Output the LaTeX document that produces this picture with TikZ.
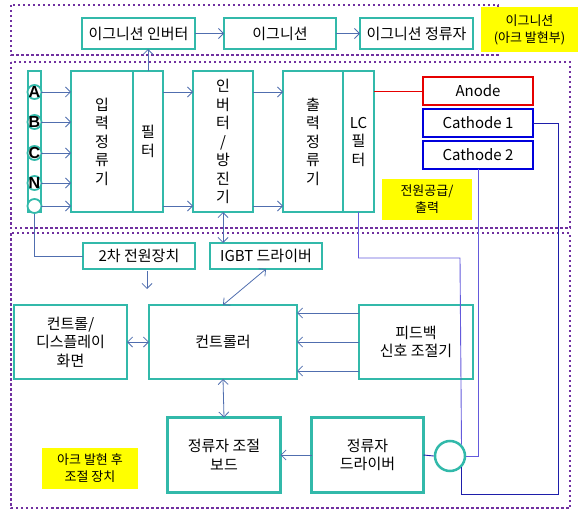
\documentclass[tikz,border=0pt]{standalone}
\usepackage{fontspec}
\setmainfont{Noto Sans CJK KR}
\newfontfamily\pinfont{Liberation Sans}
\usetikzlibrary{shapes, arrows.meta, positioning}
\usepackage{xcolor}
\definecolor{BoxTeal}{RGB}{50,185,170}
\definecolor{FramePurple}{RGB}{112,48,160}
\definecolor{LinkBlue}{RGB}{80,110,175}
\definecolor{WireBlue}{RGB}{100,90,220}
\definecolor{WireNavy}{RGB}{30,30,170}
\definecolor{NoteYellow}{RGB}{255,255,0}
\definecolor{AnodeRed}{RGB}{230,0,0}
\definecolor{CathodeBlue}{RGB}{0,0,220}

\begin{document}
\begin{tikzpicture}[
          x=1pt, y=-1pt,
          block/.style={rectangle, draw=BoxTeal, line width=2.5pt, fill=white, align=center, outer sep=0pt, inner sep=1pt, font=\fontsize{15}{18.5}\selectfont},
          tallblock/.style={block, minimum height=141pt},
          lead/.style={rectangle, line width=2.5pt, fill=white, minimum width=110pt, minimum height=28pt, outer sep=0pt, font=\fontsize{15}{18}\selectfont},
          terminal/.style={circle, draw=BoxTeal, line width=1.8pt, fill=white, minimum size=14pt, inner sep=0pt, label={[font=\pinfont\bfseries\fontsize{16}{16}\selectfont, inner sep=0pt]center:#1}},
          note/.style={rectangle, fill=NoteYellow, align=center, outer sep=0pt, font=\fontsize{13}{17}\selectfont},
          frame/.style={draw=FramePurple, line width=2.5pt, dash pattern=on 2.5pt off 2.5pt},
          arrow/.style={-{Straight Barb[length=5pt, width=10pt]}, line width=0.8pt, LinkBlue},
          dbl/.style={{Straight Barb[length=5pt, width=10pt]}-{Straight Barb[length=5pt, width=10pt]}, line width=0.8pt, LinkBlue},
          link/.style={line width=0.8pt, LinkBlue},
          wire/.style={line width=0.9pt, WireBlue},
          navywire/.style={line width=0.9pt, WireNavy},
          redwire/.style={line width=0.9pt, AnodeRed}
        ]
          \useasboundingbox (0,0) rectangle (582,511);

          \draw [frame] (11,5) rectangle (498,55);
          \draw [frame] (11,62) rectangle (570,228);
          \draw [frame] (11,233) rectangle (570,508);

          \node (ign_note) [note, minimum width=97pt, minimum height=45pt] at (529.5,30) {이그니션\\(아크 발현부)};
          \node (power_note) [note, minimum width=90pt, minimum height=41pt] at (427,199.5) {전원공급/\\출력};
          \node (arc_note) [note, minimum width=96pt, minimum height=41pt] at (90,468.5) {아크 발현 후\\조절 장치};

          \node (ign_inv) [block, minimum width=113pt, minimum height=31pt] at (138.5,33.5) {이그니션 인버터};
          \node (ign) [block, minimum width=112pt, minimum height=31pt, right=29pt of ign_inv] {이그니션};
          \node (ign_rect) [block, minimum width=113pt, minimum height=31pt, right=24pt of ign] {이그니션 정류자};

          \node (term) [block, minimum width=13pt, minimum height=141pt] at (34.5,141.5) {};
          \node (pA) [terminal=A] at (34.5,92) {};
          \node (pB) [terminal=B] at (34.5,122) {};
          \node (pC) [terminal=C] at (34.5,153) {};
          \node (pN) [terminal=N] at (34.5,183) {};
          \node (pE) [terminal={}] at (34.5,206) {};

          \node (in_rect) [tallblock, minimum width=62pt] at (102,141.5) {입\\력\\정\\류\\기};
          \node (filter) [tallblock, minimum width=30pt, anchor=west] at (in_rect.east) {필\\터};
          \node (inverter) [tallblock, minimum width=60pt, right=30pt of filter] {인\\버\\터\\/\\방\\진\\기};
          \node (out_rect) [tallblock, minimum width=60pt, right=30pt of inverter] {출\\력\\정\\류\\기};
          \node (lc) [tallblock, minimum width=31pt, anchor=west] at (out_rect.east) {LC\\필\\터};

          \node (anode) [lead, draw=AnodeRed] at (478,91) {Anode};
          \node (cath1) [lead, draw=CathodeBlue, below=4pt of anode] {Cathode 1};
          \node (cath2) [lead, draw=CathodeBlue, below=4pt of cath1] {Cathode 2};

          \node (sec_pow) [block, minimum width=112pt, minimum height=26pt] at (139,256) {2차 전원장치};
          \node (igbt) [block, minimum width=112pt, minimum height=26pt, right=15pt of sec_pow] {IGBT 드라이버};
          \node (ctrl_disp) [block, minimum width=113pt, minimum height=74pt] at (70.5,342) {컨트롤/\\디스플레이\\화면};
          \node (ctrl) [block, minimum width=148pt, minimum height=74pt, right=22pt of ctrl_disp] {컨트롤러};
          \node (feedback) [block, minimum width=114pt, minimum height=74pt, right=62pt of ctrl] {피드백\\신호 조절기};
          \node (board) [block, minimum width=113pt, minimum height=75pt] at (224,455) {정류자 조절\\보드};
          \node (driver) [block, minimum width=112pt, minimum height=75pt, right=31pt of board] {정류자\\드라이버};
          \node (sensor) [circle, draw=BoxTeal, line width=2.5pt, fill=white, minimum size=30pt, inner sep=0pt] at (450,456) {};

          \coordinate (pow_in) at (147,289);
          \coordinate (lc_turn) at (460,258);
          \coordinate (c1_turn) at (558,494);

          \draw [arrow] (ign_inv) -- (ign);
          \draw [arrow] (ign) -- (ign_rect);
          \draw [arrow] (filter.north) -- (filter.north |- ign_inv.south);

          \draw [arrow] (pA -| term.east) -- (pA -| in_rect.west);
          \draw [arrow] (pB -| term.east) -- (pB -| in_rect.west);
          \draw [arrow] (pC -| term.east) -- (pC -| in_rect.west);
          \draw [arrow] (pN -| term.east) -- (pN -| in_rect.west);
          \draw [arrow] (pE -| term.east) -- (pE -| in_rect.west);
          \draw [arrow] (pA -| filter.east) -- (pA -| inverter.west);
          \draw [arrow] (pE -| filter.east) -- (pE -| inverter.west);
          \draw [arrow] (pA -| inverter.east) -- (pA -| out_rect.west);
          \draw [arrow] (pE -| inverter.east) -- (pE -| out_rect.west);
          \draw [redwire] (anode.west) -- (anode.west -| lc.east);

          \draw [link] (pE.south) |- (sec_pow.west);
          \draw [arrow] (pow_in |- sec_pow.south) ++(0,2) -- (pow_in);
          \draw [dbl] (inverter.south) -- (inverter.south |- igbt.north);
          \draw [dbl] (igbt.south) -- (ctrl.north);
          \draw [dbl] (ctrl_disp) -- (ctrl);
          \draw [arrow] ([yshift=-8pt]feedback.north west) -- ([yshift=-8pt]feedback.north west -| ctrl.east);
          \draw [arrow] (feedback.west) -- (ctrl.east);
          \draw [arrow] ([yshift=8pt]feedback.south west) -- ([yshift=8pt]feedback.south west -| ctrl.east);
          \draw [dbl] (ctrl.south) -- (board.north);
          \draw [arrow] (driver.west) -- (board.east);

          \draw [navywire] (driver.east) -- (sensor.west);
          \draw [wire] (lc.south) |- (lc_turn) -- (sensor.north east);
          \draw [wire] (cath2.south) |- (sensor.east);
          \draw [navywire] (cath1.east) -| (c1_turn) -| (sensor.south east);
        \end{tikzpicture}
\end{document}
